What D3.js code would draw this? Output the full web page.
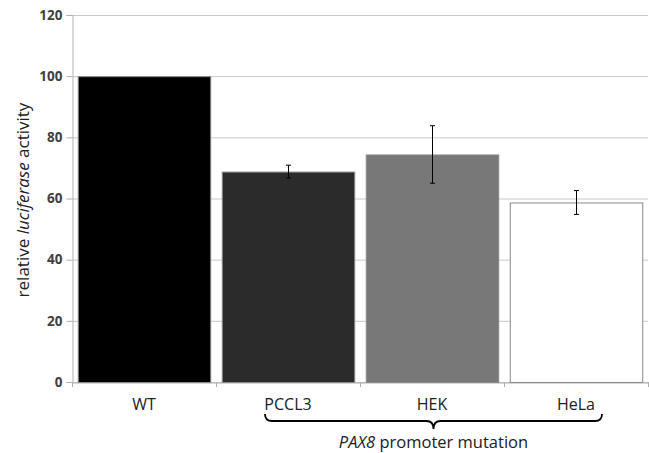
<!DOCTYPE html>
<html><head><meta charset="utf-8">
<script src="https://cdn.jsdelivr.net/npm/d3@7"></script>
<style>body{margin:0;background:#fff;} text{font-family:"Open Sans","Noto Sans",sans-serif;}</style>
</head><body>
<svg id="chart" width="649" height="453"></svg>
<script>
const categories = ["WT", "PCCL3", "HEK", "HeLa"];
const values = [100, 68.8, 74.4, 58.7];
const errors = [0, 2.1, 9.4, 3.9];
const colors = ["#000000", "#2b2b2b", "#787878", "#ffffff"];
const yTicks = [0, 20, 40, 60, 80, 100, 120];

const svg = d3.select("#chart");
const m = {left: 72, right: 648, top: 15, bottom: 382};
const x = d3.scaleBand().domain(categories).range([m.left, m.right]).paddingInner(0.08).paddingOuter(0.04);
const y = d3.scaleLinear().domain([0, 120]).range([m.bottom, m.top]);

// gridlines
svg.append("g").selectAll("line").data(yTicks).join("line")
  .attr("x1", m.left).attr("x2", m.right)
  .attr("y1", d => y(d) + 0.5).attr("y2", d => y(d) + 0.5)
  .attr("stroke", "#c8c8c8").attr("stroke-width", 1);

// y axis
const yAxis = svg.append("g").attr("transform", `translate(${m.left + 0.5},0)`)
  .call(d3.axisLeft(y).tickValues(yTicks).tickSize(6).tickPadding(4));
yAxis.select(".domain").attr("stroke", "#b0b0b0");
yAxis.selectAll(".tick line").attr("stroke", "#b0b0b0");
yAxis.selectAll(".tick text").attr("font-size", 13.5).attr("font-weight", "bold").attr("fill", "#404040")
  .style("font-family", "'Open Sans',sans-serif");

// x axis
const xAxis = svg.append("g").attr("transform", `translate(0,${m.bottom + 0.5})`)
  .call(d3.axisBottom(x).tickSize(0).tickPadding(16));
xAxis.select(".domain").attr("stroke", "#b0b0b0");
xAxis.selectAll(".tick text").attr("font-size", 16).attr("fill", "#202020")
  .style("font-family", "'Open Sans',sans-serif");
// x boundary ticks
const bounds = categories.map(c => x(c) - x.step() * x.paddingInner() / 2);
bounds.push(m.right);
bounds[0] = m.left;
svg.append("g").selectAll("line").data(bounds).join("line")
  .attr("x1", d => d + 0.5).attr("x2", d => d + 0.5)
  .attr("y1", m.bottom).attr("y2", m.bottom + 5)
  .attr("stroke", "#b0b0b0");

// bars
svg.append("g").selectAll("rect").data(categories).join("rect")
  .attr("x", d => x(d) + 0.5).attr("width", x.bandwidth())
  .attr("y", (d, i) => y(values[i]) + 0.5)
  .attr("height", (d, i) => y(0) - y(values[i]))
  .attr("fill", (d, i) => colors[i])
  .attr("stroke", "#8a8a8a").attr("stroke-width", 1);

// error bars
const eb = svg.append("g");
categories.forEach((c, i) => {
  if (!errors[i]) return;
  const cx = Math.round(x(c) + x.bandwidth() / 2) + 0.5;
  const y1 = y(values[i] + errors[i]), y2 = y(values[i] - errors[i]);
  eb.append("line").attr("x1", cx).attr("x2", cx).attr("y1", y1).attr("y2", y2).attr("stroke", "#000").attr("stroke-width", 1);
  [y1, y2].forEach(yy => eb.append("line").attr("x1", cx - 2.5).attr("x2", cx + 2.5)
    .attr("y1", yy).attr("y2", yy).attr("stroke", "#000").attr("stroke-width", 1));
});

// y axis title
svg.append("text").attr("transform", "translate(29,200) rotate(-90)")
  .attr("text-anchor", "middle").attr("font-size", 17).attr("fill", "#202020")
  .html('relative <tspan font-style="italic">luciferase</tspan> activity');

// brace
const bx1 = 265, bx2 = 602, bmid = (bx1 + bx2) / 2, by = 414, bh = 8;
const r = 7;
const bracePath = `M${bx1},${by} Q${bx1},${by + r} ${bx1 + r},${by + r} L${bmid - r},${by + r} Q${bmid},${by + r} ${bmid},${by + r + bh}
  Q${bmid},${by + r} ${bmid + r},${by + r} L${bx2 - r},${by + r} Q${bx2},${by + r} ${bx2},${by}`;
svg.append("path").attr("d", bracePath).attr("fill", "none").attr("stroke", "#000").attr("stroke-width", 1.8);

svg.append("text").attr("x", bmid).attr("y", 448).attr("text-anchor", "middle")
  .attr("font-size", 16.5).attr("fill", "#202020")
  .html('<tspan font-style="italic">PAX8</tspan> promoter mutation');
</script>
</body></html>
